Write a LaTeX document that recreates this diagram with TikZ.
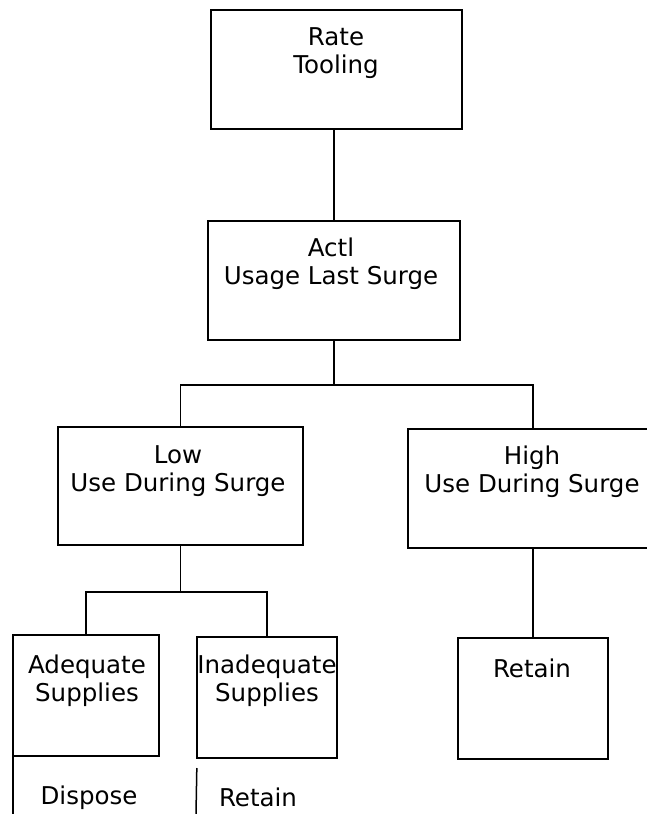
\documentclass[tikz,border=0pt]{standalone}
\usepackage{fontspec}
\setmainfont{DejaVu Sans}
\begin{document}
\begin{tikzpicture}[x=1pt,y=-1pt,
  box/.style={draw, line width=1.8pt, inner sep=0pt, outer sep=0pt},
  conn/.style={line width=1.5pt},
  lbl/.style={font=\fontsize{24.5}{28}\selectfont, align=center, inner sep=0pt}]
\useasboundingbox (0,0) rectangle (647,814);
\clip (0,0) rectangle (647,814);
% boxes
\node[box, minimum width=251pt, minimum height=119pt] (rate) at (336.5,69.5) {};
\node[box, minimum width=252pt, minimum height=119pt] (actl) at (334,280.5) {};
\node[box, minimum width=245pt, minimum height=118pt] (low) at (180.5,486) {};
\node[box, minimum width=250pt, minimum height=119pt] (high) at (533,488.5) {};
\node[box, minimum width=146pt, minimum height=121pt] (adq) at (86,695.5) {};
\node[box, minimum width=140pt, minimum height=121pt] (inadq) at (267,697.5) {};
\node[box, minimum width=150pt, minimum height=121pt] (ret) at (533,698.5) {};
% texts
\node[lbl] (rateT) at (336,53) {Rate\\Tooling};
\node[lbl] (actlT) at (331,264) {Actl\\Usage Last Surge};
\node[lbl] (lowT) at (178,471) {Low\\Use During Surge};
\node[lbl] (highT) at (532,472) {High\\Use During Surge};
\node[lbl] (adqT) at (87,681) {Adequate\\Supplies};
\node[lbl] (inadqT) at (267,681) {Inadequate\\Supplies};
\node[lbl] (retT) at (532,668) {Retain};
\node[lbl] (dispT) at (89,798) {Dispose};
\node[lbl] (ret2T) at (258,797) {Retain};
% connectors
\coordinate (br) at (334,385);
\coordinate (lb) at (180.5,592);
\coordinate (adqEnd) at (13,814);
\coordinate (inEnd) at (196,814);
\draw[conn] (rate.south -| actl.north) -- (actl.north);
\draw[conn] (actl.south) -- (br);
\draw[conn] (low.north) |- (br) -| (high.north);
\draw[conn] (low.south) -- (lb);
\draw[conn] (adq.north) |- (lb) -| (inadq.north);
\draw[conn] (high.south) -- (ret.north);
\draw[conn] (adq.south west) -- (adqEnd);
\draw[conn, shorten <=10pt] (inadq.south west) -- (inEnd);
\end{tikzpicture}
\end{document}
